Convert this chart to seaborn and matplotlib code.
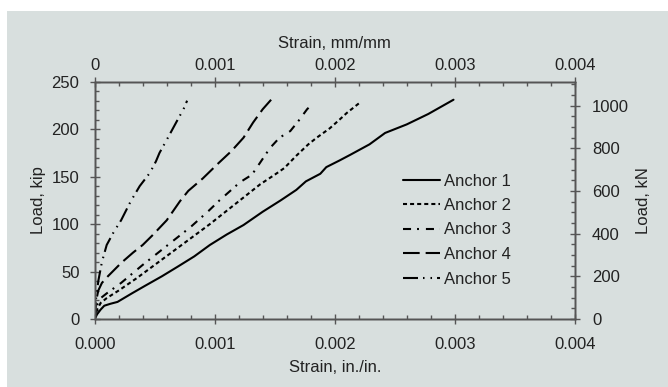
import matplotlib
matplotlib.use('Agg')
import matplotlib.pyplot as plt
from matplotlib.patches import Rectangle
from matplotlib.ticker import MultipleLocator, FormatStrFormatter, FuncFormatter
import seaborn as sns

# values (strain in in./in., load in kip)
anchor_names = ['Anchor 1', 'Anchor 2', 'Anchor 3', 'Anchor 4', 'Anchor 5']

strain1 = [0, 0.00002, 0.00005, 0.00008, 0.00013, 0.00019, 0.00023, 0.00031, 0.00042, 0.00056,
           0.00069, 0.00083, 0.00096, 0.00110, 0.00124, 0.00140, 0.00155, 0.00168, 0.00176, 0.00182,
           0.00188, 0.00193, 0.00204, 0.00213, 0.00229, 0.00242, 0.00260, 0.00278, 0.00299]
load1 = [0, 5, 10, 14, 16, 18, 21, 27, 35, 45, 55, 66, 78, 89, 99, 113, 125, 136, 145, 149,
         153, 160, 167, 173, 184, 196, 205, 216, 231]

strain2 = [0, 0.00002, 0.00005, 0.0001, 0.0002, 0.00035, 0.0005, 0.00065, 0.0008, 0.00096, 0.00108,
           0.00121, 0.00138, 0.0015, 0.00158, 0.00168, 0.00178, 0.00185, 0.00196, 0.00204, 0.0021, 0.00222]
load2 = [0, 10, 17, 22, 30, 43, 57, 71, 85, 100, 112, 125, 142, 152, 159, 172, 184, 191, 201, 210, 217, 229]

strain3 = [0, 0.00002, 0.00005, 0.0001, 0.00022, 0.0004, 0.0006, 0.0008, 0.00095, 0.00104, 0.00121,
           0.00131, 0.00138, 0.00146, 0.00154, 0.00163, 0.0017, 0.00177, 0.00181]
load3 = [0, 15, 22, 27, 38, 57, 77, 97, 114, 125, 144, 152, 165, 180, 191, 198, 209, 221, 226]

strain4 = [0, 0.00001, 0.00003, 0.00006, 0.00011, 0.00022, 0.00032, 0.0004, 0.00048, 0.0006, 0.00071,
           0.00078, 0.0009, 0.00103, 0.00114, 0.00124, 0.00132, 0.0014, 0.00147]
load4 = [0, 18, 30, 38, 45, 59, 70, 78, 88, 104, 124, 135, 148, 164, 177, 191, 207, 221, 231]

strain5 = [0, 0.00001, 0.00003, 0.00006, 0.0001, 0.00016, 0.00022, 0.0003, 0.000375, 0.00046, 0.00051,
           0.00054, 0.00061, 0.00067, 0.0007, 0.00074, 0.00077]
load5 = [0, 20, 40, 60, 78, 92, 104, 124, 140, 154, 166, 175, 191, 205, 212, 221, 230]

KIP_TO_KN = 4.448

sns.set_style('ticks')
plt.rcParams['font.family'] = ['Liberation Sans', 'DejaVu Sans']
plt.rcParams['font.size'] = 12
plt.rcParams['lines.scale_dashes'] = False

bg = '#d8dfde'
edge = '#555555'
txt = '#222222'

fig = plt.figure(figsize=(6.68, 3.87), dpi=100, facecolor='white')
fig.patches.append(Rectangle((7 / 668, 0), 1, 1 - 11 / 387, transform=fig.transFigure,
                             facecolor=bg, edgecolor='none', zorder=-10))
ax = fig.add_axes([94.7 / 668, 68 / 387, 480 / 668, 237.3 / 387])
ax.set_facecolor(bg)

# line styles in points
styles = ['-', (0, (2.9, 2.2)), (0, (5.8, 4.3, 1.4, 5.0)), (0, (12.0, 4.3)),
          (0, (10.8, 3.6, 1.1, 4.3, 1.1, 3.6))]
series = [(strain1, load1), (strain2, load2), (strain3, load3), (strain4, load4), (strain5, load5)]

for name, (s, p), ls in zip(anchor_names, series, styles):
    sns.lineplot(x=s, y=p, ax=ax, color='black', linewidth=1.5, linestyle=ls,
                 label=name, estimator=None, sort=False, legend=False)

ax.set_xlim(0, 0.004)
ax.set_ylim(0, 250)
ax.xaxis.set_major_locator(MultipleLocator(0.001))
ax.xaxis.set_minor_locator(MultipleLocator(0.0002))
ax.xaxis.set_major_formatter(FormatStrFormatter('%.3f'))
ax.yaxis.set_major_locator(MultipleLocator(50))
ax.yaxis.set_minor_locator(MultipleLocator(10))

ax_top = ax.twiny()
ax_top.set_xlim(0, 0.004)
ax_top.xaxis.set_major_locator(MultipleLocator(0.001))
ax_top.xaxis.set_minor_locator(MultipleLocator(0.0002))
ax_top.xaxis.set_major_formatter(FuncFormatter(lambda v, _: f'{v:g}'))

ax_right = ax.twinx()
ax_right.set_ylim(0, 250 * KIP_TO_KN)
ax_right.yaxis.set_major_locator(MultipleLocator(200))
ax_right.yaxis.set_minor_locator(MultipleLocator(50))

for a in (ax, ax_top, ax_right):
    a.tick_params(which='major', direction='inout', length=7, width=1, color=edge,
                  labelsize=12, labelcolor=txt)
    a.tick_params(which='minor', direction='in', length=3, width=1, color=edge)
    for sp in a.spines.values():
        sp.set_color(edge)
        sp.set_linewidth(1)
ax.tick_params(axis='x', which='major', pad=9.5)
ax.tick_params(axis='y', which='major', pad=7.5)
ax_top.tick_params(axis='x', which='major', pad=3)
ax_right.tick_params(axis='y', which='major', pad=9)

ax.set_xlabel('Strain, in./in.', color=txt)
ax.set_ylabel('Load, kip', color=txt)
ax_top.set_xlabel('Strain, mm/mm', color=txt)
ax_right.set_ylabel('Load, kN', color=txt)

ax.xaxis.set_label_coords(0.5, (319 - 367.5) / 237.3)
ax.yaxis.set_label_coords((39 - 94.7) / 480, 0.5)
ax_top.xaxis.set_label_coords(0.5, (319 - 43) / 237.3)
ax_right.yaxis.set_label_coords((643.5 - 94.7) / 480, 0.5)
for lab in (ax.xaxis.label, ax.yaxis.label, ax_top.xaxis.label, ax_right.yaxis.label):
    lab.set_va('center')

handles, labels = ax.get_legend_handles_labels()
leg = ax.legend(handles, labels, loc='center left', bbox_to_anchor=(403 / 668, 1 - 230 / 387),
                bbox_transform=fig.transFigure, frameon=False, borderpad=0, borderaxespad=0,
                handlelength=2.2, handletextpad=0.25, labelspacing=0.57, fontsize=12)
for t in leg.get_texts():
    t.set_color(txt)

fig.savefig('out.png', dpi=100, facecolor=fig.get_facecolor())
